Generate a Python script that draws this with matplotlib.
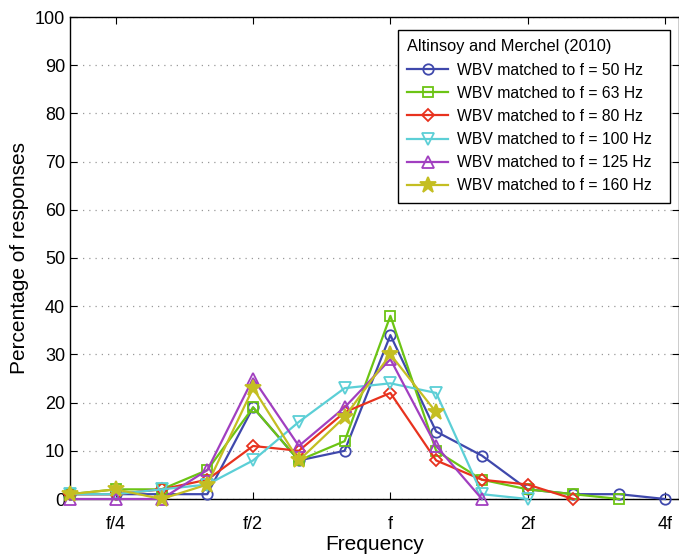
import numpy as np
import matplotlib
matplotlib.use("Agg")
import matplotlib.pyplot as plt


# Data ------------------------------------------------------------------

# third-octave steps relative to the matched frequency f
Steps = [-7, -6, -5, -4, -3, -2, -1, 0, 1, 2, 3, 4, 5, 6]
Tick_Steps = [-6, -3, 0, 3, 6]
Tick_Labels = ["f/4", "f/2", "f", "2f", "4f"]

Resp_50 = [1, 1, 1, 1, 19, 8, 10, 34, 14, 9, 2, 1, 1, 0]
Resp_63 = [1, 2, 2, 6, 19, 8, 12, 38, 10, 4, 2, 1, 0]
Resp_80 = [1, 1, 2, 4, 11, 10, 18, 22, 8, 4, 3, 0]
Resp_100 = [1, 1, 2, 3, 8, 16, 23, 24, 22, 1, 0]
Resp_125 = [0, 0, 0, 6, 25, 11, 19, 29, 11, 0]
Resp_160 = [1, 2, 0, 3, 23, 8, 17, 30, 18]

Series = [Resp_50, Resp_63, Resp_80, Resp_100, Resp_125, Resp_160]
Labels = ["WBV matched to f = 50 Hz", "WBV matched to f = 63 Hz",
          "WBV matched to f = 80 Hz", "WBV matched to f = 100 Hz",
          "WBV matched to f = 125 Hz", "WBV matched to f = 160 Hz"]


# Plotting --------------------------------------------------------------

plt.rcParams["font.family"] = ["Liberation Sans", "DejaVu Sans"]

Color_List = ["#3f48ac", "#6cc414", "#e8321e", "#5ccfd6", "#a13fc0", "#c4be22"]
Marker_List = ["o", "s", "D", "v", "^", "*"]
Size_List = [7.5, 6.5, 6, 8.5, 8.5, 12]

fig = plt.figure(figsize=(6.79, 5.54), dpi=100)
ax = fig.add_axes([70 / 679, 55 / 554, 609 / 679, 482 / 554])

i = 0
while(i < len(Series)):

    Values = Series[i]
    X = Steps[:len(Values)]
    Star = Marker_List[i] == "*"

    ax.plot(X, Values, color=Color_List[i], linewidth=1.6,
            marker=Marker_List[i], markersize=Size_List[i],
            markerfacecolor=Color_List[i] if Star else "none",
            markeredgewidth=1.3, label=Labels[i], clip_on=False, zorder=3 + i)

    i = i + 1

ax.set_xlim(-7, 6 + 14 / 45.77)
ax.set_ylim(0, 100)
ax.set_yticks(np.arange(0, 101, 10))
ax.set_xticks(Tick_Steps)
ax.set_xticklabels(Tick_Labels)

ax.tick_params(direction="in", top=True, right=True, labelsize=13, length=5, width=0.8)
ax.tick_params(axis="x", pad=12)
ax.yaxis.grid(True, linestyle=(0, (1, 4)), color="#999999", linewidth=0.9)
ax.set_axisbelow(True)

for Spine in ax.spines.values():
    Spine.set_linewidth(1.0)

ax.set_xlabel("Frequency", fontsize=15, labelpad=2)
ax.set_ylabel("Percentage of responses", fontsize=15, labelpad=4)

# legend box spans 398..670 px horizontally, top edge at 30 px
Leg_X0 = (398 - 70) / 609
Leg_W = (670 - 398) / 609
Leg_Top = (499 - 30) / 482

Leg = ax.legend(title="Altinsoy and Merchel (2010)", loc="upper left",
                bbox_to_anchor=(Leg_X0, Leg_Top - 0.5, Leg_W, 0.5), mode="expand",
                borderaxespad=0, fontsize=11.3, title_fontsize=11.8, alignment="left",
                fancybox=False, edgecolor="black", framealpha=1, handlelength=2.6,
                labelspacing=0.52, borderpad=0.6, handletextpad=0.55)
Leg.get_frame().set_linewidth(1.0)

plt.savefig("out.png", dpi=100)
